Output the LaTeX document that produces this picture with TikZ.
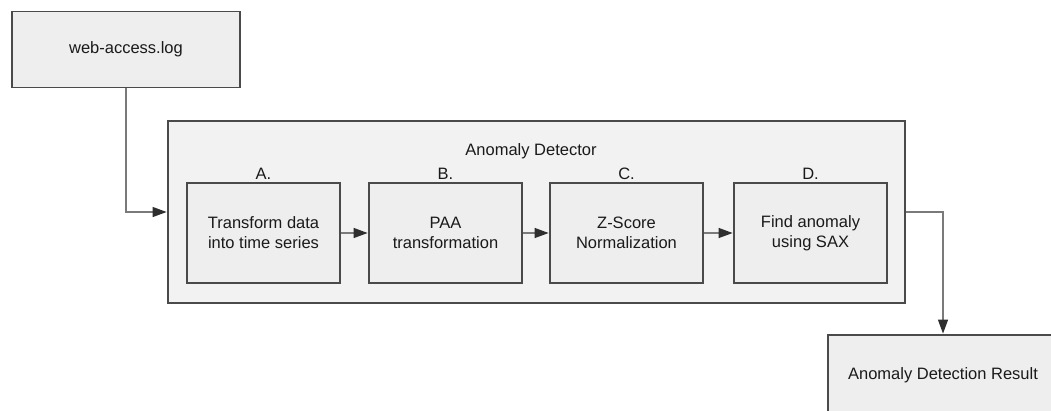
\documentclass[tikz,border=0pt]{standalone}
\usepackage{fontspec}
\setmainfont{Liberation Sans}
\usetikzlibrary{arrows.meta}
\definecolor{boxline}{HTML}{4A4A4A}
\definecolor{boxfill}{HTML}{EEEEEE}
\definecolor{outerfill}{HTML}{F2F2F2}
\definecolor{connline}{HTML}{7A7A7A}
\definecolor{tipfill}{HTML}{2E2E2E}
\definecolor{txt}{HTML}{1A1A1A}
\begin{document}
\begin{tikzpicture}[x=1pt,y=-1pt,
  every node/.style={font=\fontsize{16.5}{20}\selectfont, text=txt},
  box/.style={draw=boxline, line width=1.8pt, fill=boxfill, align=center, inner sep=0pt},
  stepbox/.style={box, minimum width=153pt, minimum height=100pt},
  outerbox/.style={draw=boxline, line width=1.8pt, fill=outerfill, inner sep=0pt, minimum width=737pt, minimum height=182pt},
  steplabel/.style={anchor=south, inner sep=2pt},
  conn/.style={draw=connline, line width=1.3pt, -{Triangle[length=14pt,width=10pt,color=tipfill,fill=tipfill]}, shorten >=0.5pt}
]
\useasboundingbox (0,0) rectangle (1051,410);
\begin{scope}
\clip (0,0) rectangle (1051,410);
\node[box, minimum width=228pt, minimum height=76pt] (web) at (126,49.5) {web-access.log};
\node[outerbox] (det) at (536.5,212) {};
\node (dettitle) at (531,151) {Anomaly Detector};
\node[stepbox] (a) at (263.5,233) {Transform data\\into time series};
\node[stepbox] (b) at (445.5,233) {PAA\\transformation};
\node[stepbox] (c) at (626.5,233) {Z-Score\\Normalization};
\node[stepbox] (d) at (810.5,233) {Find anomaly\\using SAX};
\node[steplabel] (la) at (a.north) {A.};
\node[steplabel] (lb) at (b.north) {B.};
\node[steplabel] (lc) at (c.north) {C.};
\node[steplabel] (ld) at (d.north) {D.};
\node[box, minimum width=230pt, minimum height=80pt] (res) at (943,375) {Anomaly Detection Result};
\draw[conn] (web.south) |- (det.west);
\draw[conn] (a) -- (b);
\draw[conn] (b) -- (c);
\draw[conn] (c) -- (d);
\draw[conn] (det.east) -| (res.north);
\end{scope}
\end{tikzpicture}
\end{document}
